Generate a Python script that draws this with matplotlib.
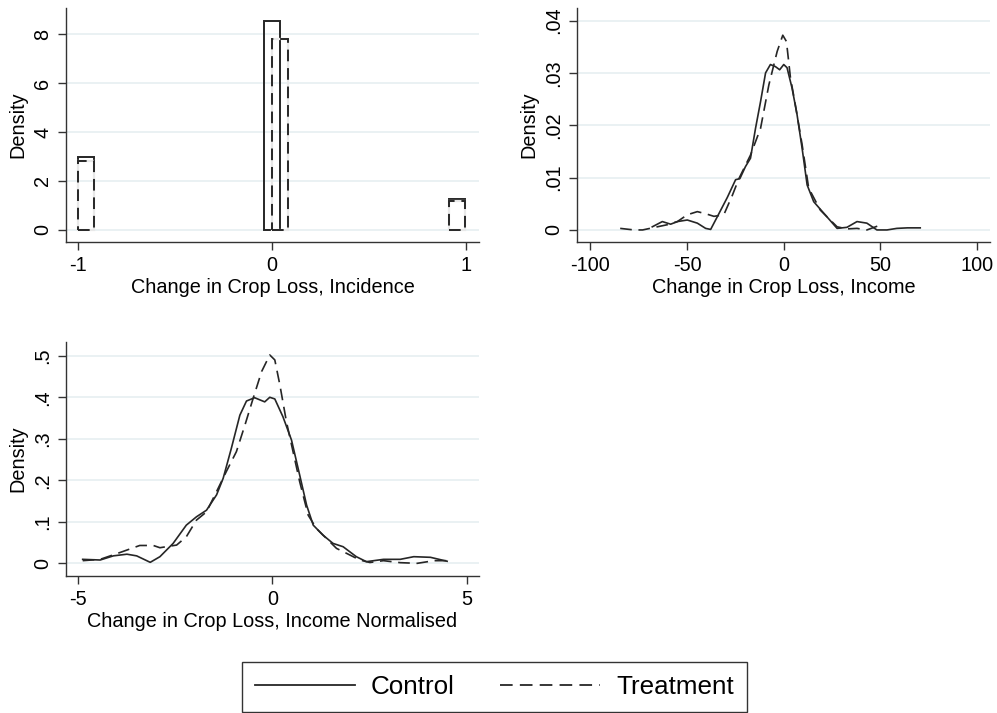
import matplotlib
matplotlib.use("Agg")
import matplotlib.pyplot as plt
from matplotlib.lines import Line2D

plt.rcParams['font.family'] = ['Liberation Sans', 'DejaVu Sans']

# --- panel 1: histogram of change in incidence (bar left edges, densities)
inc_width = 0.082
inc_ctrl_left = [-1.0, -0.043, 0.915]
inc_ctrl_dens = [2.97, 8.54, 1.27]
inc_treat_left = [-1.0, 0.0, 0.915]
inc_treat_dens = [2.83, 7.78, 1.17]

# --- panel 2: kernel density, change in crop loss income
inc2_ctrl_x = [-68, -62.8, -58.5, -55, -49.9, -44.7, -40.4, -37.8, -34.4, -29.2, -24.9,
               -22.7, -19.8, -17.2, -14.6, -12, -9.4, -6.9, -4.3, -2.1, 0, 1.7, 4.3, 6.9,
               9.5, 12.1, 15.5, 20.7, 27.6, 32.7, 37.9, 43, 48.2, 53.4, 58.5, 64, 70.6]
inc2_ctrl_y = [0.0006, 0.0016, 0.0011, 0.0016, 0.0019, 0.0013, 0.0003, 0.0001, 0.0025,
               0.0062, 0.0096, 0.0098, 0.0121, 0.0137, 0.0194, 0.0245, 0.030, 0.0316,
               0.0312, 0.0306, 0.0316, 0.031, 0.0271, 0.022, 0.0156, 0.0086, 0.0054,
               0.0032, 0.0003, 0.0005, 0.0016, 0.0013, 0.0, 0.0, 0.0003, 0.0004, 0.0004]
inc2_treat_x = [-84.6, -77.4, -73, -65.4, -60.2, -55, -49.9, -44.7, -40.4, -36.1, -31,
                -26.6, -23.2, -17.2, -12, -7.7, -3.4, -0.5, 1.4, 3.5, 6, 9.5, 12.9, 18.9,
                22.4, 27.6, 32.7, 37.9, 43, 49]
inc2_treat_y = [0.0003, 0.0, 0.0, 0.0006, 0.001, 0.0016, 0.0029, 0.0035, 0.0031, 0.0026,
                0.0029, 0.0066, 0.0098, 0.0143, 0.0194, 0.0277, 0.0341, 0.0372, 0.036,
                0.029, 0.0239, 0.0163, 0.008, 0.0038, 0.0025, 0.0006, 0.0002, 0.0003, 0.0,
                0.0008]

# --- panel 3: kernel density, normalised income
nrm_ctrl_x = [-4.89, -4.44, -4.1, -3.75, -3.5, -3.15, -2.9, -2.56, -2.22, -1.96, -1.7,
              -1.44, -1.27, -1.06, -0.84, -0.67, -0.46, -0.2, -0.07, 0.06, 0.27, 0.49,
              0.7, 0.88, 1.05, 1.3, 1.56, 1.82, 2.16, 2.42, 2.86, 3.29, 3.64, 4.07, 4.5]
nrm_ctrl_y = [0.0096, 0.008, 0.018, 0.022, 0.018, 0.0024, 0.016, 0.048, 0.092, 0.112,
              0.128, 0.165, 0.205, 0.277, 0.357, 0.391, 0.399, 0.389, 0.4, 0.396, 0.353,
              0.297, 0.213, 0.14, 0.092, 0.068, 0.048, 0.04, 0.016, 0.004, 0.0096, 0.0096,
              0.016, 0.0145, 0.005]
nrm_treat_x = [-4.89, -4.44, -3.93, -3.42, -3.07, -2.9, -2.47, -2.22, -1.96, -1.7, -1.44,
               -1.19, -0.93, -0.71, -0.5, -0.28, -0.07, 0.06, 0.19, 0.36, 0.53, 0.7, 0.92,
               1.13, 1.39, 1.65, 1.91, 2.25, 2.51, 2.86, 3.29, 3.73, 4.16, 4.5]
nrm_treat_y = [0.0064, 0.0096, 0.026, 0.043, 0.043, 0.0376, 0.044, 0.064, 0.104, 0.124,
               0.173, 0.221, 0.269, 0.333, 0.397, 0.462, 0.502, 0.49, 0.43, 0.341, 0.269,
               0.197, 0.116, 0.084, 0.06, 0.036, 0.024, 0.008, 0.002, 0.0064, 0.0016, 0.0,
               0.0064, 0.0064]

legend_labels = ['Control', 'Treatment']

DARK = '#262626'
GRID = '#E6EFF1'
DASH = (0, (7, 4))
FS = 14.3


def style_axes(ax, xticks, xticklabels, yticks, yticklabels, xlim, ylim, xlabel):
    for s in ['top', 'right']:
        ax.spines[s].set_visible(False)
    for s in ['left', 'bottom']:
        ax.spines[s].set_color('#333333')
        ax.spines[s].set_linewidth(1.0)
    ax.set_xlim(xlim)
    ax.set_ylim(ylim)
    ax.set_xticks(xticks)
    ax.set_xticklabels(xticklabels, fontsize=FS)
    ax.set_yticks(yticks)
    ax.set_yticklabels(yticklabels, fontsize=FS, rotation=90, va='center')
    ax.tick_params(axis='both', length=6, width=1.0, color='#333333', pad=4)
    ax.grid(axis='y', color=GRID, linewidth=1.2)
    ax.set_axisbelow(True)
    ax.set_xlabel(xlabel, fontsize=FS, labelpad=2)
    ax.set_ylabel('Density', fontsize=FS, labelpad=4)


fig = plt.figure(figsize=(9.97, 7.13), dpi=100)

# panel 1
ax1 = fig.add_axes([0.0662, 0.6606, 0.4142, 0.3282])
ax1.bar(inc_ctrl_left, inc_ctrl_dens, width=inc_width, align='edge', fill=False,
        edgecolor=DARK, linewidth=1.4)
# light underlay so the dashed outline shows gaps where the bars coincide
ax1.bar(inc_treat_left, inc_treat_dens, width=inc_width, align='edge', fill=False,
        edgecolor='#e8e8e8', linewidth=1.6)
ax1.bar(inc_treat_left, inc_treat_dens, width=inc_width, align='edge', fill=False,
        edgecolor=DARK, linewidth=1.4, linestyle=(0, (6, 3.5)))
style_axes(ax1, [-1, 0, 1], ['-1', '0', '1'], [0, 2, 4, 6, 8], ['0', '2', '4', '6', '8'],
           (-1.062, 1.067), (-0.49, 9.06), 'Change in Crop Loss, Incidence')

# panel 2
ax2 = fig.add_axes([0.579, 0.6606, 0.414, 0.3282])
ax2.plot(inc2_ctrl_x, inc2_ctrl_y, color=DARK, linewidth=1.2)
ax2.plot(inc2_treat_x, inc2_treat_y, color=DARK, linewidth=1.2, linestyle=DASH)
style_axes(ax2, [-100, -50, 0, 50, 100], ['-100', '-50', '0', '50', '100'],
           [0, 0.01, 0.02, 0.03, 0.04], ['0', '.01', '.02', '.03', '.04'],
           (-106.8, 106.7), (-0.0023, 0.0424), 'Change in Crop Loss, Income')

# panel 3
ax3 = fig.add_axes([0.0662, 0.1921, 0.4142, 0.3287])
ax3.plot(nrm_ctrl_x, nrm_ctrl_y, color=DARK, linewidth=1.2)
ax3.plot(nrm_treat_x, nrm_treat_y, color=DARK, linewidth=1.2, linestyle=DASH)
style_axes(ax3, [-5, 0, 5], ['-5', '0', '5'], [0, 0.1, 0.2, 0.3, 0.4, 0.5],
           ['0', '.1', '.2', '.3', '.4', '.5'],
           (-5.32, 5.32), (-0.0306, 0.534), 'Change in Crop Loss, Income Normalised')

handles = [Line2D([], [], color=DARK, linewidth=1.3),
           Line2D([], [], color=DARK, linewidth=1.3, linestyle=DASH)]
leg = fig.legend(handles, legend_labels, loc='center', bbox_to_anchor=(0.496, 0.036),
                 ncol=2, fontsize=18.7, handlelength=3.85, handletextpad=0.6,
                 columnspacing=1.75, borderpad=0.5, fancybox=False, framealpha=1)
leg.get_frame().set_edgecolor('#333333')
leg.get_frame().set_linewidth(1.0)

fig.savefig('out.png', dpi=100)
